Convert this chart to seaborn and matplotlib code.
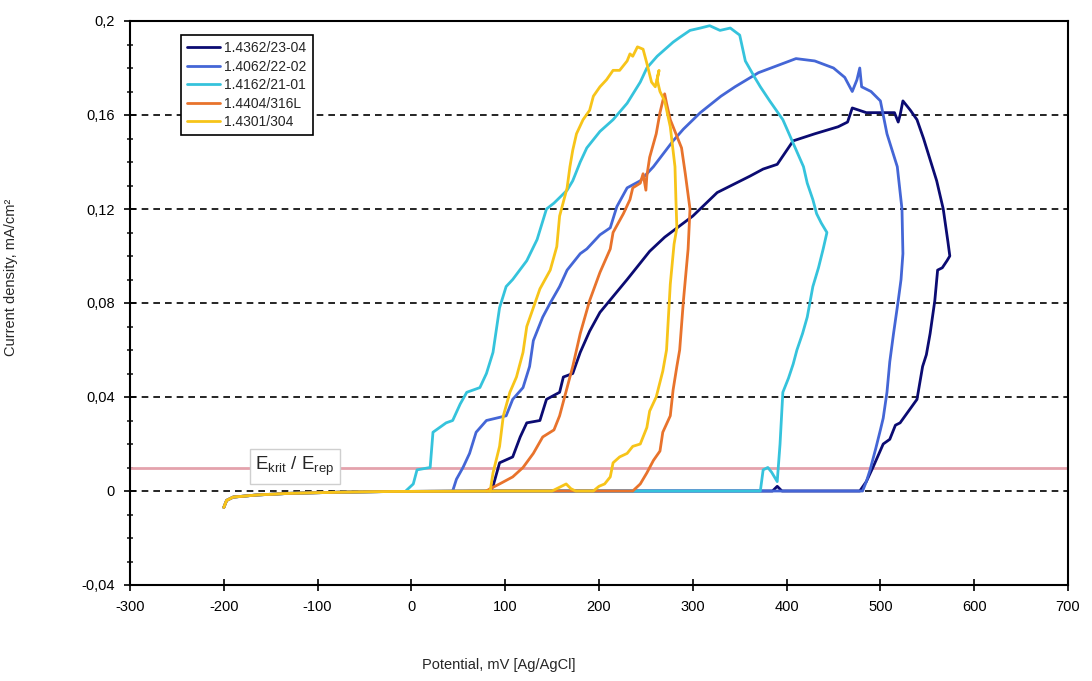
import matplotlib
matplotlib.use('Agg')
import matplotlib.pyplot as plt
import seaborn as sns
import pandas as pd

# Stromdichte-Potential-Schleifen (zyklische Polarisation), Werte aus dem Bild gelesen
labels = ['1.4362/23-04', '1.4062/22-02', '1.4162/21-01', '1.4404/316L', '1.4301/304']
colors = ['#0b0b72', '#4466d6', '#35c3dc', '#e8732c', '#f7c419']

base_x = [-200, -197, -190, -165, -130, -75, -20]
base_y = [-0.007, -0.004, -0.0026, -0.0017, -0.001, -0.0005, -0.0002]

navy_x = base_x + [100, 385, 390, 395, 478, 485, 492, 503, 510, 516, 521, 530, 539, 545, 549, 553, 558, 561, 566,
                   571, 574, 572, 567, 560, 553, 546, 539, 532, 524, 521, 519, 515, 503, 485, 470, 465, 455, 430,
                   407, 390, 375, 361, 326, 300, 270, 254, 230, 201, 190, 180, 172, 162, 158, 144, 137, 123, 116,
                   108, 94, 91, 87, 84]
navy_y = base_y + [0, 0, 0.002, 0, 0, 0.004, 0.01, 0.02, 0.022, 0.028, 0.029, 0.034, 0.039, 0.053, 0.058, 0.067,
                   0.081, 0.094, 0.095, 0.098, 0.1, 0.106, 0.12, 0.132, 0.141, 0.15, 0.158, 0.162, 0.166, 0.16,
                   0.157, 0.161, 0.161, 0.161, 0.163, 0.157, 0.155, 0.152, 0.149, 0.139, 0.137, 0.134, 0.127,
                   0.117, 0.108, 0.102, 0.09, 0.076, 0.068, 0.059, 0.05, 0.0485, 0.042, 0.039, 0.03, 0.029,
                   0.023, 0.0145, 0.012, 0.0077, 0.002, 0]

blue_x = base_x + [100, 481, 485, 489, 495, 500, 503, 507, 510, 514, 519, 522, 524, 523, 518, 507, 500, 490, 480,
                   478, 475, 470, 462, 450, 430, 410, 390, 370, 345, 330, 308, 290, 279, 258, 244, 230, 219, 212,
                   201, 187, 180, 166, 158, 148, 140, 130, 126, 119, 108, 101, 80, 69, 62, 55, 48, 44]
blue_y = base_y + [0, 0, 0.004, 0.009, 0.018, 0.026, 0.031, 0.042, 0.055, 0.067, 0.081, 0.09, 0.101, 0.12, 0.138,
                   0.152, 0.166, 0.17, 0.172, 0.18, 0.175, 0.17, 0.176, 0.18, 0.183, 0.184, 0.181, 0.178, 0.172,
                   0.168, 0.161, 0.154, 0.149, 0.138, 0.132, 0.129, 0.121, 0.112, 0.109, 0.103, 0.101, 0.094,
                   0.087, 0.08, 0.074, 0.064, 0.053, 0.044, 0.039, 0.032, 0.03, 0.025, 0.016, 0.01, 0.005, 0]

cyan_x = base_x + [100, 372, 375, 380, 384, 390, 393, 396, 402, 407, 411, 417, 422, 428, 434, 439, 443, 437, 432,
                   428, 422, 418, 407, 396, 382, 372, 366, 356, 350, 340, 329, 318, 308, 297, 286, 279, 262, 251,
                   244, 230, 215, 201, 187, 180, 172, 166, 152, 144, 134, 123, 108, 101, 94, 87, 80, 73, 59, 52,
                   44, 37, 23, 20, 6, 2, -6]
cyan_y = base_y + [0, 0, 0.009, 0.01, 0.008, 0.004, 0.02, 0.042, 0.048, 0.054, 0.06, 0.067, 0.074, 0.087, 0.095,
                   0.103, 0.11, 0.114, 0.118, 0.124, 0.131, 0.138, 0.148, 0.158, 0.166, 0.172, 0.176, 0.183,
                   0.194, 0.197, 0.196, 0.198, 0.197, 0.196, 0.193, 0.191, 0.185, 0.18, 0.174, 0.165, 0.158,
                   0.153, 0.146, 0.14, 0.132, 0.128, 0.1225, 0.12, 0.107, 0.098, 0.09, 0.087, 0.078, 0.059, 0.05,
                   0.044, 0.042, 0.037, 0.03, 0.029, 0.025, 0.01, 0.009, 0.003, 0]

orange_x = base_x + [100, 236, 244, 251, 258, 265, 268, 276, 279, 283, 286, 290, 295, 297, 292, 288, 282, 276, 272,
                     270, 268, 265, 261, 254, 251, 250, 247, 244, 236, 233, 226, 215, 212, 201, 190, 180, 172, 166,
                     158, 152, 140, 130, 119, 108, 94, 84, 80]
orange_y = base_y + [0, 0, 0.003, 0.0077, 0.013, 0.017, 0.025, 0.032, 0.043, 0.053, 0.06, 0.081, 0.103, 0.12,
                     0.135, 0.146, 0.152, 0.158, 0.165, 0.169, 0.166, 0.161, 0.152, 0.142, 0.134, 0.128, 0.135,
                     0.131, 0.129, 0.124, 0.118, 0.11, 0.103, 0.093, 0.081, 0.067, 0.053, 0.044, 0.032, 0.026,
                     0.023, 0.016, 0.01, 0.006, 0.003, 0.001, 0]

yellow_x = base_x + [100, 150, 160, 165, 170, 175, 194, 200, 206, 212, 215, 222, 230, 236, 244, 251, 254, 261, 268,
                     272, 276, 280, 283, 282, 281, 276, 270, 265, 262, 264, 260, 256, 251, 247, 241, 236, 233, 230,
                     222, 215, 208, 201, 194, 190, 183, 176, 172, 169, 166, 158, 155, 148, 137, 130, 123, 119, 112,
                     105, 98, 94, 87, 84]
yellow_y = base_y + [0, 0, 0.002, 0.003, 0.001, 0, 0, 0.002, 0.003, 0.006, 0.012, 0.0145, 0.016, 0.019, 0.02,
                     0.027, 0.034, 0.04, 0.051, 0.06, 0.088, 0.105, 0.112, 0.124, 0.138, 0.155, 0.166, 0.17, 0.175,
                     0.179, 0.172, 0.174, 0.182, 0.188, 0.189, 0.185, 0.186, 0.183, 0.179, 0.179, 0.175, 0.172,
                     0.168, 0.162, 0.158, 0.152, 0.145, 0.138, 0.129, 0.117, 0.104, 0.094, 0.086, 0.078, 0.07,
                     0.059, 0.0485, 0.042, 0.032, 0.019, 0.0077, 0]

curves = [(navy_x, navy_y), (blue_x, blue_y), (cyan_x, cyan_y), (orange_x, orange_y), (yellow_x, yellow_y)]

x_ticks = [-300, -200, -100, 0, 100, 200, 300, 400, 500, 600, 700]
y_ticks = [-0.04, 0, 0.04, 0.08, 0.12, 0.16, 0.2]
y_ticklabels = ['-0,04', '0', '0,04', '0,08', '0,12', '0,16', '0,2']
grid_levels = [0, 0.04, 0.08, 0.12, 0.16]
e_krit = 0.01

sns.set_style('white')
plt.rcParams['font.family'] = ['Liberation Sans', 'DejaVu Sans']
plt.rcParams['mathtext.fontset'] = 'custom'
plt.rcParams['mathtext.rm'] = 'Liberation Sans'

fig = plt.figure(figsize=(10.92, 6.81), dpi=100)
ax = fig.add_axes([130 / 1092, 1 - 585 / 681, 938 / 1092, 564 / 681])

for yv in grid_levels:
    ax.axhline(yv, color='black', lw=1.2, linestyle=(0, (4, 3)), zorder=1)
ax.axhline(e_krit, color='#e4a2ac', lw=2, zorder=1.5)

for (xs, ys), name, col in zip(curves, labels, colors):
    df = pd.DataFrame({'E': xs, 'i': ys})
    sns.lineplot(data=df, x='E', y='i', sort=False, estimator=None, color=col, lw=2.0,
                 label=name, ax=ax, zorder=3)

ax.text(-124, 0.0105, r'$\mathrm{E_{krit}}$ / $\mathrm{E_{rep}}$', ha='center', va='center', fontsize=13.5,
        zorder=4, bbox=dict(boxstyle='square,pad=0.3', fc='white', ec='#cfcfcf', lw=1))

ax.set_xlim(-300, 700)
ax.set_ylim(-0.04, 0.2)
ax.set_xticks(x_ticks)
ax.set_xticklabels([str(v) for v in x_ticks])
ax.set_yticks(y_ticks)
ax.set_yticklabels(y_ticklabels)
ax.set_yticks([v / 100 for v in range(-4, 21)], minor=True)
ax.tick_params(axis='both', which='major', direction='inout', length=8, width=1.2, labelsize=10.5,
               colors='black', pad=7)
ax.tick_params(axis='y', which='minor', direction='inout', length=5, width=1.2, left=True)
ax.tick_params(left=True, bottom=True)

for s in ax.spines.values():
    s.set_color('black')
    s.set_linewidth(1.5)

ax.set_xlabel('Potential, mV [Ag/AgCl]', fontsize=10.5)
ax.set_ylabel('Current density, mA/cm²', fontsize=10.5)
ax.xaxis.set_label_coords(0.393, -0.13)
ax.yaxis.set_label_coords(-0.119, 0.546)

ax.legend(loc='upper left', bbox_to_anchor=(0.054, 0.975), frameon=True, fancybox=False, edgecolor='black',
          framealpha=1, fontsize=10, handlelength=2.4, handletextpad=0.3, labelspacing=0.32,
          borderpad=0.45, borderaxespad=0)
ax.get_legend().get_frame().set_linewidth(1.2)

fig.savefig('out.png', dpi=100)
